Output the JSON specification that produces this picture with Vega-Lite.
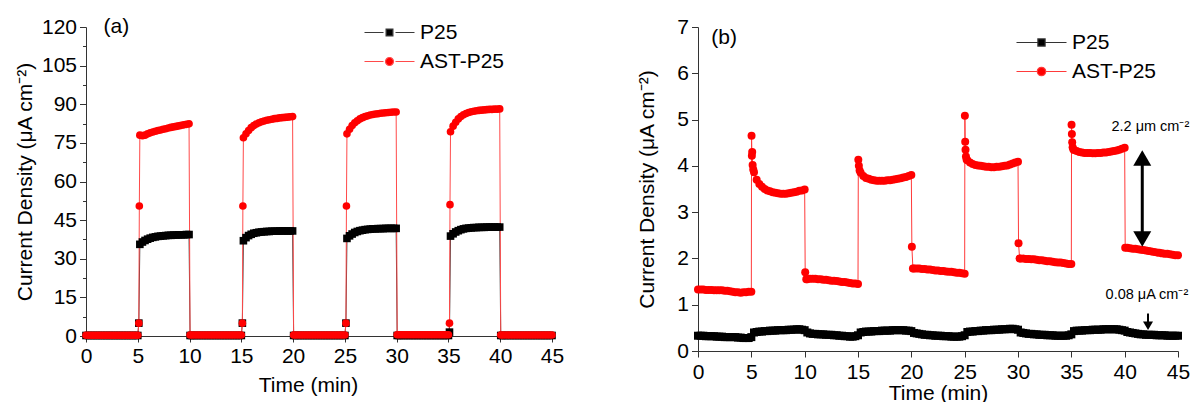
{
"$schema": "https://vega.github.io/schema/vega-lite/v6.json",
"padding": {"left": 14, "top": 16, "right": 0, "bottom": 0},
"spacing": 72,
"resolve": {"scale": {"color": "independent", "fill": "independent", "shape": "independent", "stroke": "independent"}, "legend": {"color": "independent", "fill": "independent", "shape": "independent", "stroke": "independent"}},
"config": {
  "view": {"stroke": null},
  "font": "Liberation Sans",
  "legend": {"symbolFillColor": "#000000", "symbolStrokeColor": "#000000"},
  "axis": {"grid": false, "labelFont": "Liberation Sans", "titleFont": "Liberation Sans", "labelFontSize": 21, "titleFontSize": 21, "titleFontWeight": "normal", "labelColor": "#000", "titleColor": "#000", "domainColor": "#333", "tickColor": "#333", "labelFlush": false, "labelOverlap": false}
},
"datasets": {
"legend": [{"s":"P25"},{"s":"AST-P25"}],
"a": [
{"s":"P25","t":0,"v":0.2},{"s":"P25","t":0.25,"v":0.2},{"s":"P25","t":0.5,"v":0.2},{"s":"P25","t":0.75,"v":0.2},{"s":"P25","t":1,"v":0.2},{"s":"P25","t":1.25,"v":0.2},{"s":"P25","t":1.5,"v":0.2},{"s":"P25","t":1.75,"v":0.2},{"s":"P25","t":2,"v":0.2},{"s":"P25","t":2.25,"v":0.2},{"s":"P25","t":2.5,"v":0.2},{"s":"P25","t":2.75,"v":0.2},{"s":"P25","t":3,"v":0.2},{"s":"P25","t":3.25,"v":0.2},{"s":"P25","t":3.5,"v":0.2},{"s":"P25","t":3.75,"v":0.2},{"s":"P25","t":4,"v":0.2},{"s":"P25","t":4.25,"v":0.2},{"s":"P25","t":4.5,"v":0.2},{"s":"P25","t":4.75,"v":0.2},{"s":"P25","t":5,"v":0.2},
{"s":"P25","t":5.1,"v":5},
{"s":"P25","t":5.2,"v":35.6},{"s":"P25","t":5.45,"v":36.5},{"s":"P25","t":5.7,"v":37.1},{"s":"P25","t":5.95,"v":37.6},{"s":"P25","t":6.2,"v":38.0},{"s":"P25","t":6.45,"v":38.3},{"s":"P25","t":6.7,"v":38.5},{"s":"P25","t":6.95,"v":38.7},{"s":"P25","t":7.2,"v":38.8},{"s":"P25","t":7.45,"v":38.9},{"s":"P25","t":7.7,"v":39.0},{"s":"P25","t":7.95,"v":39.1},{"s":"P25","t":8.2,"v":39.1},{"s":"P25","t":8.45,"v":39.2},{"s":"P25","t":8.7,"v":39.2},{"s":"P25","t":8.95,"v":39.3},{"s":"P25","t":9.2,"v":39.3},{"s":"P25","t":9.45,"v":39.3},{"s":"P25","t":9.7,"v":39.4},{"s":"P25","t":9.95,"v":39.4},
{"s":"P25","t":10.05,"v":0.2},{"s":"P25","t":10.25,"v":0.2},{"s":"P25","t":10.5,"v":0.2},{"s":"P25","t":10.75,"v":0.2},{"s":"P25","t":11,"v":0.2},{"s":"P25","t":11.25,"v":0.2},{"s":"P25","t":11.5,"v":0.2},{"s":"P25","t":11.75,"v":0.2},{"s":"P25","t":12,"v":0.2},{"s":"P25","t":12.25,"v":0.2},{"s":"P25","t":12.5,"v":0.2},{"s":"P25","t":12.75,"v":0.2},{"s":"P25","t":13,"v":0.2},{"s":"P25","t":13.25,"v":0.2},{"s":"P25","t":13.5,"v":0.2},{"s":"P25","t":13.75,"v":0.2},{"s":"P25","t":14,"v":0.2},{"s":"P25","t":14.25,"v":0.2},{"s":"P25","t":14.5,"v":0.2},{"s":"P25","t":14.75,"v":0.2},{"s":"P25","t":15,"v":0.2},
{"s":"P25","t":15.1,"v":5},
{"s":"P25","t":15.2,"v":37.0},{"s":"P25","t":15.45,"v":38.2},{"s":"P25","t":15.7,"v":39.0},{"s":"P25","t":15.95,"v":39.5},{"s":"P25","t":16.2,"v":39.9},{"s":"P25","t":16.45,"v":40.1},{"s":"P25","t":16.7,"v":40.3},{"s":"P25","t":16.95,"v":40.4},{"s":"P25","t":17.2,"v":40.5},{"s":"P25","t":17.45,"v":40.6},{"s":"P25","t":17.7,"v":40.6},{"s":"P25","t":17.95,"v":40.7},{"s":"P25","t":18.2,"v":40.7},{"s":"P25","t":18.45,"v":40.7},{"s":"P25","t":18.7,"v":40.8},{"s":"P25","t":18.95,"v":40.8},{"s":"P25","t":19.2,"v":40.8},{"s":"P25","t":19.45,"v":40.8},{"s":"P25","t":19.7,"v":40.8},{"s":"P25","t":19.95,"v":40.8},
{"s":"P25","t":20.05,"v":0.2},{"s":"P25","t":20.25,"v":0.2},{"s":"P25","t":20.5,"v":0.2},{"s":"P25","t":20.75,"v":0.2},{"s":"P25","t":21,"v":0.2},{"s":"P25","t":21.25,"v":0.2},{"s":"P25","t":21.5,"v":0.2},{"s":"P25","t":21.75,"v":0.2},{"s":"P25","t":22,"v":0.2},{"s":"P25","t":22.25,"v":0.2},{"s":"P25","t":22.5,"v":0.2},{"s":"P25","t":22.75,"v":0.2},{"s":"P25","t":23,"v":0.2},{"s":"P25","t":23.25,"v":0.2},{"s":"P25","t":23.5,"v":0.2},{"s":"P25","t":23.75,"v":0.2},{"s":"P25","t":24,"v":0.2},{"s":"P25","t":24.25,"v":0.2},{"s":"P25","t":24.5,"v":0.2},{"s":"P25","t":24.75,"v":0.2},{"s":"P25","t":25,"v":0.2},
{"s":"P25","t":25.1,"v":5},
{"s":"P25","t":25.2,"v":37.9},{"s":"P25","t":25.45,"v":38.9},{"s":"P25","t":25.7,"v":39.6},{"s":"P25","t":25.95,"v":40.2},{"s":"P25","t":26.2,"v":40.6},{"s":"P25","t":26.45,"v":40.9},{"s":"P25","t":26.7,"v":41.1},{"s":"P25","t":26.95,"v":41.3},{"s":"P25","t":27.2,"v":41.4},{"s":"P25","t":27.45,"v":41.5},{"s":"P25","t":27.7,"v":41.6},{"s":"P25","t":27.95,"v":41.6},{"s":"P25","t":28.2,"v":41.7},{"s":"P25","t":28.45,"v":41.7},{"s":"P25","t":28.7,"v":41.7},{"s":"P25","t":28.95,"v":41.8},{"s":"P25","t":29.2,"v":41.8},{"s":"P25","t":29.45,"v":41.8},{"s":"P25","t":29.7,"v":41.8},{"s":"P25","t":29.95,"v":41.8},
{"s":"P25","t":30.05,"v":0.2},{"s":"P25","t":30.25,"v":0.2},{"s":"P25","t":30.5,"v":0.2},{"s":"P25","t":30.75,"v":0.2},{"s":"P25","t":31,"v":0.2},{"s":"P25","t":31.25,"v":0.2},{"s":"P25","t":31.5,"v":0.2},{"s":"P25","t":31.75,"v":0.2},{"s":"P25","t":32,"v":0.2},{"s":"P25","t":32.25,"v":0.2},{"s":"P25","t":32.5,"v":0.2},{"s":"P25","t":32.75,"v":0.2},{"s":"P25","t":33,"v":0.2},{"s":"P25","t":33.25,"v":0.2},{"s":"P25","t":33.5,"v":0.2},{"s":"P25","t":33.75,"v":0.2},{"s":"P25","t":34,"v":0.2},{"s":"P25","t":34.25,"v":0.2},{"s":"P25","t":34.5,"v":0.2},{"s":"P25","t":34.75,"v":0.2},{"s":"P25","t":35,"v":0.2},
{"s":"P25","t":35.1,"v":1.5},
{"s":"P25","t":35.2,"v":38.8},{"s":"P25","t":35.45,"v":39.7},{"s":"P25","t":35.7,"v":40.4},{"s":"P25","t":35.95,"v":40.9},{"s":"P25","t":36.2,"v":41.3},{"s":"P25","t":36.45,"v":41.6},{"s":"P25","t":36.7,"v":41.8},{"s":"P25","t":36.95,"v":41.9},{"s":"P25","t":37.2,"v":42.0},{"s":"P25","t":37.45,"v":42.1},{"s":"P25","t":37.7,"v":42.1},{"s":"P25","t":37.95,"v":42.2},{"s":"P25","t":38.2,"v":42.2},{"s":"P25","t":38.45,"v":42.2},{"s":"P25","t":38.7,"v":42.3},{"s":"P25","t":38.95,"v":42.3},{"s":"P25","t":39.2,"v":42.3},{"s":"P25","t":39.45,"v":42.3},{"s":"P25","t":39.7,"v":42.3},{"s":"P25","t":39.95,"v":42.3},
{"s":"P25","t":40.05,"v":0.2},{"s":"P25","t":40.25,"v":0.2},{"s":"P25","t":40.5,"v":0.2},{"s":"P25","t":40.75,"v":0.2},{"s":"P25","t":41,"v":0.2},{"s":"P25","t":41.25,"v":0.2},{"s":"P25","t":41.5,"v":0.2},{"s":"P25","t":41.75,"v":0.2},{"s":"P25","t":42,"v":0.2},{"s":"P25","t":42.25,"v":0.2},{"s":"P25","t":42.5,"v":0.2},{"s":"P25","t":42.75,"v":0.2},{"s":"P25","t":43,"v":0.2},{"s":"P25","t":43.25,"v":0.2},{"s":"P25","t":43.5,"v":0.2},{"s":"P25","t":43.75,"v":0.2},{"s":"P25","t":44,"v":0.2},{"s":"P25","t":44.25,"v":0.2},{"s":"P25","t":44.5,"v":0.2},{"s":"P25","t":44.75,"v":0.2},{"s":"P25","t":45,"v":0.2},

{"s":"AST-P25","t":0,"v":0.3},{"s":"AST-P25","t":0.25,"v":0.3},{"s":"AST-P25","t":0.5,"v":0.3},{"s":"AST-P25","t":0.75,"v":0.3},{"s":"AST-P25","t":1,"v":0.3},{"s":"AST-P25","t":1.25,"v":0.3},{"s":"AST-P25","t":1.5,"v":0.3},{"s":"AST-P25","t":1.75,"v":0.3},{"s":"AST-P25","t":2,"v":0.3},{"s":"AST-P25","t":2.25,"v":0.3},{"s":"AST-P25","t":2.5,"v":0.3},{"s":"AST-P25","t":2.75,"v":0.3},{"s":"AST-P25","t":3,"v":0.3},{"s":"AST-P25","t":3.25,"v":0.3},{"s":"AST-P25","t":3.5,"v":0.3},{"s":"AST-P25","t":3.75,"v":0.3},{"s":"AST-P25","t":4,"v":0.3},{"s":"AST-P25","t":4.25,"v":0.3},{"s":"AST-P25","t":4.5,"v":0.3},{"s":"AST-P25","t":4.75,"v":0.3},{"s":"AST-P25","t":5,"v":0.3},
{"s":"AST-P25","t":5.1,"v":5},{"s":"AST-P25","t":5.15,"v":50.5},
{"s":"AST-P25","t":5.2,"v":78.0},{"s":"AST-P25","t":5.45,"v":77.8},{"s":"AST-P25","t":5.7,"v":78.0},{"s":"AST-P25","t":5.95,"v":78.5},{"s":"AST-P25","t":6.2,"v":78.9},{"s":"AST-P25","t":6.45,"v":79.2},{"s":"AST-P25","t":6.7,"v":79.5},{"s":"AST-P25","t":6.95,"v":79.8},{"s":"AST-P25","t":7.2,"v":80.0},{"s":"AST-P25","t":7.45,"v":80.3},{"s":"AST-P25","t":7.7,"v":80.5},{"s":"AST-P25","t":7.95,"v":80.8},{"s":"AST-P25","t":8.2,"v":81.0},{"s":"AST-P25","t":8.45,"v":81.2},{"s":"AST-P25","t":8.7,"v":81.4},{"s":"AST-P25","t":8.95,"v":81.6},{"s":"AST-P25","t":9.2,"v":81.8},{"s":"AST-P25","t":9.45,"v":82.0},{"s":"AST-P25","t":9.7,"v":82.2},{"s":"AST-P25","t":9.95,"v":82.4},
{"s":"AST-P25","t":10.05,"v":0.4},{"s":"AST-P25","t":10.25,"v":0.4},{"s":"AST-P25","t":10.5,"v":0.4},{"s":"AST-P25","t":10.75,"v":0.4},{"s":"AST-P25","t":11,"v":0.4},{"s":"AST-P25","t":11.25,"v":0.4},{"s":"AST-P25","t":11.5,"v":0.4},{"s":"AST-P25","t":11.75,"v":0.4},{"s":"AST-P25","t":12,"v":0.4},{"s":"AST-P25","t":12.25,"v":0.4},{"s":"AST-P25","t":12.5,"v":0.4},{"s":"AST-P25","t":12.75,"v":0.4},{"s":"AST-P25","t":13,"v":0.4},{"s":"AST-P25","t":13.25,"v":0.4},{"s":"AST-P25","t":13.5,"v":0.4},{"s":"AST-P25","t":13.75,"v":0.4},{"s":"AST-P25","t":14,"v":0.4},{"s":"AST-P25","t":14.25,"v":0.4},{"s":"AST-P25","t":14.5,"v":0.4},{"s":"AST-P25","t":14.75,"v":0.4},{"s":"AST-P25","t":15,"v":0.4},
{"s":"AST-P25","t":15.1,"v":5},{"s":"AST-P25","t":15.15,"v":50.5},
{"s":"AST-P25","t":15.2,"v":77.0},{"s":"AST-P25","t":15.45,"v":78.5},{"s":"AST-P25","t":15.7,"v":79.8},{"s":"AST-P25","t":15.95,"v":80.9},{"s":"AST-P25","t":16.2,"v":81.7},{"s":"AST-P25","t":16.45,"v":82.3},{"s":"AST-P25","t":16.7,"v":82.8},{"s":"AST-P25","t":16.95,"v":83.2},{"s":"AST-P25","t":17.2,"v":83.5},{"s":"AST-P25","t":17.45,"v":83.8},{"s":"AST-P25","t":17.7,"v":84.0},{"s":"AST-P25","t":17.95,"v":84.2},{"s":"AST-P25","t":18.2,"v":84.4},{"s":"AST-P25","t":18.45,"v":84.5},{"s":"AST-P25","t":18.7,"v":84.7},{"s":"AST-P25","t":18.95,"v":84.8},{"s":"AST-P25","t":19.2,"v":84.9},{"s":"AST-P25","t":19.45,"v":85.0},{"s":"AST-P25","t":19.7,"v":85.1},{"s":"AST-P25","t":19.95,"v":85.2},
{"s":"AST-P25","t":20.05,"v":0.4},{"s":"AST-P25","t":20.25,"v":0.4},{"s":"AST-P25","t":20.5,"v":0.4},{"s":"AST-P25","t":20.75,"v":0.4},{"s":"AST-P25","t":21,"v":0.4},{"s":"AST-P25","t":21.25,"v":0.4},{"s":"AST-P25","t":21.5,"v":0.4},{"s":"AST-P25","t":21.75,"v":0.4},{"s":"AST-P25","t":22,"v":0.4},{"s":"AST-P25","t":22.25,"v":0.4},{"s":"AST-P25","t":22.5,"v":0.4},{"s":"AST-P25","t":22.75,"v":0.4},{"s":"AST-P25","t":23,"v":0.4},{"s":"AST-P25","t":23.25,"v":0.4},{"s":"AST-P25","t":23.5,"v":0.4},{"s":"AST-P25","t":23.75,"v":0.4},{"s":"AST-P25","t":24,"v":0.4},{"s":"AST-P25","t":24.25,"v":0.4},{"s":"AST-P25","t":24.5,"v":0.4},{"s":"AST-P25","t":24.75,"v":0.4},{"s":"AST-P25","t":25,"v":0.4},
{"s":"AST-P25","t":25.1,"v":5},{"s":"AST-P25","t":25.15,"v":50.5},
{"s":"AST-P25","t":25.2,"v":78.5},{"s":"AST-P25","t":25.45,"v":80.3},{"s":"AST-P25","t":25.7,"v":81.7},{"s":"AST-P25","t":25.95,"v":82.8},{"s":"AST-P25","t":26.2,"v":83.6},{"s":"AST-P25","t":26.45,"v":84.3},{"s":"AST-P25","t":26.7,"v":84.8},{"s":"AST-P25","t":26.95,"v":85.2},{"s":"AST-P25","t":27.2,"v":85.5},{"s":"AST-P25","t":27.45,"v":85.8},{"s":"AST-P25","t":27.7,"v":86.0},{"s":"AST-P25","t":27.95,"v":86.2},{"s":"AST-P25","t":28.2,"v":86.3},{"s":"AST-P25","t":28.45,"v":86.5},{"s":"AST-P25","t":28.7,"v":86.6},{"s":"AST-P25","t":28.95,"v":86.7},{"s":"AST-P25","t":29.2,"v":86.8},{"s":"AST-P25","t":29.45,"v":86.9},{"s":"AST-P25","t":29.7,"v":87.0},{"s":"AST-P25","t":29.95,"v":87.0},
{"s":"AST-P25","t":30.05,"v":0.5},{"s":"AST-P25","t":30.25,"v":0.5},{"s":"AST-P25","t":30.5,"v":0.5},{"s":"AST-P25","t":30.75,"v":0.5},{"s":"AST-P25","t":31,"v":0.5},{"s":"AST-P25","t":31.25,"v":0.5},{"s":"AST-P25","t":31.5,"v":0.5},{"s":"AST-P25","t":31.75,"v":0.5},{"s":"AST-P25","t":32,"v":0.5},{"s":"AST-P25","t":32.25,"v":0.5},{"s":"AST-P25","t":32.5,"v":0.5},{"s":"AST-P25","t":32.75,"v":0.5},{"s":"AST-P25","t":33,"v":0.5},{"s":"AST-P25","t":33.25,"v":0.5},{"s":"AST-P25","t":33.5,"v":0.5},{"s":"AST-P25","t":33.75,"v":0.5},{"s":"AST-P25","t":34,"v":0.5},{"s":"AST-P25","t":34.25,"v":0.5},{"s":"AST-P25","t":34.5,"v":0.5},{"s":"AST-P25","t":34.75,"v":0.5},{"s":"AST-P25","t":35,"v":0.5},
{"s":"AST-P25","t":35.1,"v":5},{"s":"AST-P25","t":35.15,"v":51},
{"s":"AST-P25","t":35.2,"v":79.3},{"s":"AST-P25","t":35.45,"v":81.5},{"s":"AST-P25","t":35.7,"v":83.0},{"s":"AST-P25","t":35.95,"v":84.3},{"s":"AST-P25","t":36.2,"v":85.2},{"s":"AST-P25","t":36.45,"v":85.9},{"s":"AST-P25","t":36.7,"v":86.4},{"s":"AST-P25","t":36.95,"v":86.8},{"s":"AST-P25","t":37.2,"v":87.1},{"s":"AST-P25","t":37.45,"v":87.3},{"s":"AST-P25","t":37.7,"v":87.5},{"s":"AST-P25","t":37.95,"v":87.6},{"s":"AST-P25","t":38.2,"v":87.7},{"s":"AST-P25","t":38.45,"v":87.8},{"s":"AST-P25","t":38.7,"v":87.9},{"s":"AST-P25","t":38.95,"v":88.0},{"s":"AST-P25","t":39.2,"v":88.0},{"s":"AST-P25","t":39.45,"v":88.1},{"s":"AST-P25","t":39.7,"v":88.1},{"s":"AST-P25","t":39.95,"v":88.2},
{"s":"AST-P25","t":40.05,"v":0.4},{"s":"AST-P25","t":40.25,"v":0.4},{"s":"AST-P25","t":40.5,"v":0.4},{"s":"AST-P25","t":40.75,"v":0.4},{"s":"AST-P25","t":41,"v":0.4},{"s":"AST-P25","t":41.25,"v":0.4},{"s":"AST-P25","t":41.5,"v":0.4},{"s":"AST-P25","t":41.75,"v":0.4},{"s":"AST-P25","t":42,"v":0.4},{"s":"AST-P25","t":42.25,"v":0.4},{"s":"AST-P25","t":42.5,"v":0.4},{"s":"AST-P25","t":42.75,"v":0.4},{"s":"AST-P25","t":43,"v":0.4},{"s":"AST-P25","t":43.25,"v":0.4},{"s":"AST-P25","t":43.5,"v":0.4},{"s":"AST-P25","t":43.75,"v":0.4},{"s":"AST-P25","t":44,"v":0.4},{"s":"AST-P25","t":44.25,"v":0.4},{"s":"AST-P25","t":44.5,"v":0.4},{"s":"AST-P25","t":44.75,"v":0.4},{"s":"AST-P25","t":45,"v":0.4}
],
"b": [
{"s":"P25","t":0,"v":0.33},{"s":"P25","t":0.25,"v":0.33},{"s":"P25","t":0.5,"v":0.33},{"s":"P25","t":0.75,"v":0.32},{"s":"P25","t":1,"v":0.32},{"s":"P25","t":1.25,"v":0.32},{"s":"P25","t":1.5,"v":0.32},{"s":"P25","t":1.75,"v":0.31},{"s":"P25","t":2,"v":0.31},{"s":"P25","t":2.25,"v":0.31},{"s":"P25","t":2.5,"v":0.30},{"s":"P25","t":2.75,"v":0.30},{"s":"P25","t":3,"v":0.30},{"s":"P25","t":3.25,"v":0.30},{"s":"P25","t":3.5,"v":0.30},{"s":"P25","t":3.75,"v":0.29},{"s":"P25","t":4,"v":0.29},{"s":"P25","t":4.25,"v":0.28},{"s":"P25","t":4.5,"v":0.28},{"s":"P25","t":4.75,"v":0.28},{"s":"P25","t":5,"v":0.30},
{"s":"P25","t":5.25,"v":0.40},{"s":"P25","t":5.5,"v":0.41},{"s":"P25","t":5.75,"v":0.42},{"s":"P25","t":6,"v":0.42},{"s":"P25","t":6.25,"v":0.43},{"s":"P25","t":6.5,"v":0.43},{"s":"P25","t":6.75,"v":0.44},{"s":"P25","t":7,"v":0.44},{"s":"P25","t":7.25,"v":0.44},{"s":"P25","t":7.5,"v":0.45},{"s":"P25","t":7.75,"v":0.45},{"s":"P25","t":8,"v":0.45},{"s":"P25","t":8.25,"v":0.45},{"s":"P25","t":8.5,"v":0.46},{"s":"P25","t":8.75,"v":0.46},{"s":"P25","t":9,"v":0.46},{"s":"P25","t":9.25,"v":0.47},{"s":"P25","t":9.5,"v":0.47},{"s":"P25","t":9.75,"v":0.46},{"s":"P25","t":10,"v":0.45},
{"s":"P25","t":10.25,"v":0.40},{"s":"P25","t":10.5,"v":0.38},{"s":"P25","t":10.75,"v":0.37},{"s":"P25","t":11,"v":0.37},{"s":"P25","t":11.25,"v":0.36},{"s":"P25","t":11.5,"v":0.36},{"s":"P25","t":11.75,"v":0.36},{"s":"P25","t":12,"v":0.35},{"s":"P25","t":12.25,"v":0.35},{"s":"P25","t":12.5,"v":0.35},{"s":"P25","t":12.75,"v":0.34},{"s":"P25","t":13,"v":0.34},{"s":"P25","t":13.25,"v":0.33},{"s":"P25","t":13.5,"v":0.33},{"s":"P25","t":13.75,"v":0.32},{"s":"P25","t":14,"v":0.32},{"s":"P25","t":14.25,"v":0.31},{"s":"P25","t":14.5,"v":0.31},{"s":"P25","t":14.75,"v":0.32},{"s":"P25","t":15,"v":0.34},
{"s":"P25","t":15.25,"v":0.40},{"s":"P25","t":15.5,"v":0.41},{"s":"P25","t":15.75,"v":0.42},{"s":"P25","t":16,"v":0.42},{"s":"P25","t":16.25,"v":0.42},{"s":"P25","t":16.5,"v":0.43},{"s":"P25","t":16.75,"v":0.43},{"s":"P25","t":17,"v":0.43},{"s":"P25","t":17.25,"v":0.44},{"s":"P25","t":17.5,"v":0.44},{"s":"P25","t":17.75,"v":0.44},{"s":"P25","t":18,"v":0.44},{"s":"P25","t":18.25,"v":0.45},{"s":"P25","t":18.5,"v":0.45},{"s":"P25","t":18.75,"v":0.45},{"s":"P25","t":19,"v":0.45},{"s":"P25","t":19.25,"v":0.45},{"s":"P25","t":19.5,"v":0.44},{"s":"P25","t":19.75,"v":0.44},{"s":"P25","t":20,"v":0.43},
{"s":"P25","t":20.25,"v":0.39},{"s":"P25","t":20.5,"v":0.38},{"s":"P25","t":20.75,"v":0.37},{"s":"P25","t":21,"v":0.36},{"s":"P25","t":21.25,"v":0.35},{"s":"P25","t":21.5,"v":0.35},{"s":"P25","t":21.75,"v":0.34},{"s":"P25","t":22,"v":0.34},{"s":"P25","t":22.25,"v":0.33},{"s":"P25","t":22.5,"v":0.33},{"s":"P25","t":22.75,"v":0.33},{"s":"P25","t":23,"v":0.32},{"s":"P25","t":23.25,"v":0.32},{"s":"P25","t":23.5,"v":0.32},{"s":"P25","t":23.75,"v":0.31},{"s":"P25","t":24,"v":0.31},{"s":"P25","t":24.25,"v":0.31},{"s":"P25","t":24.5,"v":0.31},{"s":"P25","t":24.75,"v":0.32},{"s":"P25","t":25,"v":0.34},
{"s":"P25","t":25.25,"v":0.41},{"s":"P25","t":25.5,"v":0.42},{"s":"P25","t":25.75,"v":0.42},{"s":"P25","t":26,"v":0.43},{"s":"P25","t":26.25,"v":0.43},{"s":"P25","t":26.5,"v":0.44},{"s":"P25","t":26.75,"v":0.44},{"s":"P25","t":27,"v":0.45},{"s":"P25","t":27.25,"v":0.45},{"s":"P25","t":27.5,"v":0.45},{"s":"P25","t":27.75,"v":0.46},{"s":"P25","t":28,"v":0.46},{"s":"P25","t":28.25,"v":0.46},{"s":"P25","t":28.5,"v":0.47},{"s":"P25","t":28.75,"v":0.47},{"s":"P25","t":29,"v":0.47},{"s":"P25","t":29.25,"v":0.48},{"s":"P25","t":29.5,"v":0.48},{"s":"P25","t":29.75,"v":0.47},{"s":"P25","t":30,"v":0.46},
{"s":"P25","t":30.25,"v":0.40},{"s":"P25","t":30.5,"v":0.39},{"s":"P25","t":30.75,"v":0.38},{"s":"P25","t":31,"v":0.37},{"s":"P25","t":31.25,"v":0.37},{"s":"P25","t":31.5,"v":0.36},{"s":"P25","t":31.75,"v":0.36},{"s":"P25","t":32,"v":0.35},{"s":"P25","t":32.25,"v":0.35},{"s":"P25","t":32.5,"v":0.35},{"s":"P25","t":32.75,"v":0.34},{"s":"P25","t":33,"v":0.34},{"s":"P25","t":33.25,"v":0.34},{"s":"P25","t":33.5,"v":0.33},{"s":"P25","t":33.75,"v":0.33},{"s":"P25","t":34,"v":0.33},{"s":"P25","t":34.25,"v":0.33},{"s":"P25","t":34.5,"v":0.33},{"s":"P25","t":34.75,"v":0.34},{"s":"P25","t":35,"v":0.36},
{"s":"P25","t":35.25,"v":0.43},{"s":"P25","t":35.5,"v":0.44},{"s":"P25","t":35.75,"v":0.44},{"s":"P25","t":36,"v":0.44},{"s":"P25","t":36.25,"v":0.45},{"s":"P25","t":36.5,"v":0.45},{"s":"P25","t":36.75,"v":0.45},{"s":"P25","t":37,"v":0.46},{"s":"P25","t":37.25,"v":0.46},{"s":"P25","t":37.5,"v":0.46},{"s":"P25","t":37.75,"v":0.46},{"s":"P25","t":38,"v":0.47},{"s":"P25","t":38.25,"v":0.47},{"s":"P25","t":38.5,"v":0.47},{"s":"P25","t":38.75,"v":0.47},{"s":"P25","t":39,"v":0.47},{"s":"P25","t":39.25,"v":0.47},{"s":"P25","t":39.5,"v":0.46},{"s":"P25","t":39.75,"v":0.45},{"s":"P25","t":40,"v":0.44},
{"s":"P25","t":40.25,"v":0.41},{"s":"P25","t":40.5,"v":0.40},{"s":"P25","t":40.75,"v":0.39},{"s":"P25","t":41,"v":0.38},{"s":"P25","t":41.25,"v":0.37},{"s":"P25","t":41.5,"v":0.36},{"s":"P25","t":41.75,"v":0.36},{"s":"P25","t":42,"v":0.35},{"s":"P25","t":42.25,"v":0.35},{"s":"P25","t":42.5,"v":0.35},{"s":"P25","t":42.75,"v":0.35},{"s":"P25","t":43,"v":0.34},{"s":"P25","t":43.25,"v":0.34},{"s":"P25","t":43.5,"v":0.34},{"s":"P25","t":43.75,"v":0.34},{"s":"P25","t":44,"v":0.33},{"s":"P25","t":44.25,"v":0.33},{"s":"P25","t":44.5,"v":0.33},{"s":"P25","t":44.75,"v":0.33},{"s":"P25","t":45,"v":0.33},

{"s":"AST-P25","t":0,"v":1.33},{"s":"AST-P25","t":0.25,"v":1.33},{"s":"AST-P25","t":0.5,"v":1.33},{"s":"AST-P25","t":0.75,"v":1.32},{"s":"AST-P25","t":1,"v":1.32},{"s":"AST-P25","t":1.25,"v":1.32},{"s":"AST-P25","t":1.5,"v":1.31},{"s":"AST-P25","t":1.75,"v":1.31},{"s":"AST-P25","t":2,"v":1.31},{"s":"AST-P25","t":2.25,"v":1.31},{"s":"AST-P25","t":2.5,"v":1.30},{"s":"AST-P25","t":2.75,"v":1.30},{"s":"AST-P25","t":3,"v":1.29},{"s":"AST-P25","t":3.25,"v":1.28},{"s":"AST-P25","t":3.5,"v":1.27},{"s":"AST-P25","t":3.75,"v":1.27},{"s":"AST-P25","t":4,"v":1.26},{"s":"AST-P25","t":4.25,"v":1.27},{"s":"AST-P25","t":4.5,"v":1.27},{"s":"AST-P25","t":4.75,"v":1.28},{"s":"AST-P25","t":5,"v":1.28},
{"s":"AST-P25","t":5.02,"v":4.65},{"s":"AST-P25","t":5.05,"v":4.22},{"s":"AST-P25","t":5.08,"v":4.30},{"s":"AST-P25","t":5.12,"v":4.02},{"s":"AST-P25","t":5.18,"v":3.92},
{"s":"AST-P25","t":5.25,"v":3.86},{"s":"AST-P25","t":5.5,"v":3.70},{"s":"AST-P25","t":5.75,"v":3.61},{"s":"AST-P25","t":6,"v":3.55},{"s":"AST-P25","t":6.25,"v":3.50},{"s":"AST-P25","t":6.5,"v":3.47},{"s":"AST-P25","t":6.75,"v":3.45},{"s":"AST-P25","t":7,"v":3.43},{"s":"AST-P25","t":7.25,"v":3.42},{"s":"AST-P25","t":7.5,"v":3.41},{"s":"AST-P25","t":7.75,"v":3.40},{"s":"AST-P25","t":8,"v":3.40},{"s":"AST-P25","t":8.25,"v":3.40},{"s":"AST-P25","t":8.5,"v":3.41},{"s":"AST-P25","t":8.75,"v":3.42},{"s":"AST-P25","t":9,"v":3.43},{"s":"AST-P25","t":9.25,"v":3.44},{"s":"AST-P25","t":9.5,"v":3.46},{"s":"AST-P25","t":9.75,"v":3.47},{"s":"AST-P25","t":10,"v":3.49},
{"s":"AST-P25","t":10.05,"v":1.70},{"s":"AST-P25","t":10.15,"v":1.55},
{"s":"AST-P25","t":10.25,"v":1.55},{"s":"AST-P25","t":10.5,"v":1.56},{"s":"AST-P25","t":10.75,"v":1.56},{"s":"AST-P25","t":11,"v":1.56},{"s":"AST-P25","t":11.25,"v":1.55},{"s":"AST-P25","t":11.5,"v":1.55},{"s":"AST-P25","t":11.75,"v":1.54},{"s":"AST-P25","t":12,"v":1.54},{"s":"AST-P25","t":12.25,"v":1.53},{"s":"AST-P25","t":12.5,"v":1.52},{"s":"AST-P25","t":12.75,"v":1.52},{"s":"AST-P25","t":13,"v":1.51},{"s":"AST-P25","t":13.25,"v":1.50},{"s":"AST-P25","t":13.5,"v":1.49},{"s":"AST-P25","t":13.75,"v":1.49},{"s":"AST-P25","t":14,"v":1.48},{"s":"AST-P25","t":14.25,"v":1.47},{"s":"AST-P25","t":14.5,"v":1.46},{"s":"AST-P25","t":14.75,"v":1.46},{"s":"AST-P25","t":15,"v":1.45},
{"s":"AST-P25","t":15.03,"v":4.13},{"s":"AST-P25","t":15.08,"v":4.00},{"s":"AST-P25","t":15.15,"v":3.90},
{"s":"AST-P25","t":15.25,"v":3.85},{"s":"AST-P25","t":15.5,"v":3.78},{"s":"AST-P25","t":15.75,"v":3.74},{"s":"AST-P25","t":16,"v":3.72},{"s":"AST-P25","t":16.25,"v":3.70},{"s":"AST-P25","t":16.5,"v":3.69},{"s":"AST-P25","t":16.75,"v":3.68},{"s":"AST-P25","t":17,"v":3.68},{"s":"AST-P25","t":17.25,"v":3.68},{"s":"AST-P25","t":17.5,"v":3.68},{"s":"AST-P25","t":17.75,"v":3.69},{"s":"AST-P25","t":18,"v":3.69},{"s":"AST-P25","t":18.25,"v":3.70},{"s":"AST-P25","t":18.5,"v":3.71},{"s":"AST-P25","t":18.75,"v":3.72},{"s":"AST-P25","t":19,"v":3.73},{"s":"AST-P25","t":19.25,"v":3.75},{"s":"AST-P25","t":19.5,"v":3.76},{"s":"AST-P25","t":19.75,"v":3.78},{"s":"AST-P25","t":20,"v":3.80},
{"s":"AST-P25","t":20.05,"v":2.25},{"s":"AST-P25","t":20.15,"v":1.78},
{"s":"AST-P25","t":20.25,"v":1.78},{"s":"AST-P25","t":20.5,"v":1.78},{"s":"AST-P25","t":20.75,"v":1.78},{"s":"AST-P25","t":21,"v":1.77},{"s":"AST-P25","t":21.25,"v":1.77},{"s":"AST-P25","t":21.5,"v":1.76},{"s":"AST-P25","t":21.75,"v":1.76},{"s":"AST-P25","t":22,"v":1.75},{"s":"AST-P25","t":22.25,"v":1.74},{"s":"AST-P25","t":22.5,"v":1.74},{"s":"AST-P25","t":22.75,"v":1.73},{"s":"AST-P25","t":23,"v":1.73},{"s":"AST-P25","t":23.25,"v":1.72},{"s":"AST-P25","t":23.5,"v":1.71},{"s":"AST-P25","t":23.75,"v":1.71},{"s":"AST-P25","t":24,"v":1.70},{"s":"AST-P25","t":24.25,"v":1.69},{"s":"AST-P25","t":24.5,"v":1.69},{"s":"AST-P25","t":24.75,"v":1.68},{"s":"AST-P25","t":25,"v":1.67},
{"s":"AST-P25","t":25.02,"v":5.08},{"s":"AST-P25","t":25.05,"v":4.52},{"s":"AST-P25","t":25.08,"v":4.35},{"s":"AST-P25","t":25.12,"v":4.20},{"s":"AST-P25","t":25.18,"v":4.14},
{"s":"AST-P25","t":25.25,"v":4.12},{"s":"AST-P25","t":25.5,"v":4.07},{"s":"AST-P25","t":25.75,"v":4.04},{"s":"AST-P25","t":26,"v":4.02},{"s":"AST-P25","t":26.25,"v":4.01},{"s":"AST-P25","t":26.5,"v":4.00},{"s":"AST-P25","t":26.75,"v":3.99},{"s":"AST-P25","t":27,"v":3.98},{"s":"AST-P25","t":27.25,"v":3.98},{"s":"AST-P25","t":27.5,"v":3.97},{"s":"AST-P25","t":27.75,"v":3.97},{"s":"AST-P25","t":28,"v":3.98},{"s":"AST-P25","t":28.25,"v":3.98},{"s":"AST-P25","t":28.5,"v":3.99},{"s":"AST-P25","t":28.75,"v":4.00},{"s":"AST-P25","t":29,"v":4.01},{"s":"AST-P25","t":29.25,"v":4.03},{"s":"AST-P25","t":29.5,"v":4.05},{"s":"AST-P25","t":29.75,"v":4.07},{"s":"AST-P25","t":30,"v":4.09},
{"s":"AST-P25","t":30.05,"v":2.33},{"s":"AST-P25","t":30.15,"v":2.00},
{"s":"AST-P25","t":30.25,"v":2.00},{"s":"AST-P25","t":30.5,"v":2.00},{"s":"AST-P25","t":30.75,"v":1.99},{"s":"AST-P25","t":31,"v":1.99},{"s":"AST-P25","t":31.25,"v":1.98},{"s":"AST-P25","t":31.5,"v":1.98},{"s":"AST-P25","t":31.75,"v":1.97},{"s":"AST-P25","t":32,"v":1.96},{"s":"AST-P25","t":32.25,"v":1.96},{"s":"AST-P25","t":32.5,"v":1.95},{"s":"AST-P25","t":32.75,"v":1.94},{"s":"AST-P25","t":33,"v":1.94},{"s":"AST-P25","t":33.25,"v":1.93},{"s":"AST-P25","t":33.5,"v":1.92},{"s":"AST-P25","t":33.75,"v":1.91},{"s":"AST-P25","t":34,"v":1.91},{"s":"AST-P25","t":34.25,"v":1.90},{"s":"AST-P25","t":34.5,"v":1.89},{"s":"AST-P25","t":34.75,"v":1.88},{"s":"AST-P25","t":35,"v":1.88},
{"s":"AST-P25","t":35.02,"v":4.89},{"s":"AST-P25","t":35.05,"v":4.69},{"s":"AST-P25","t":35.08,"v":4.51},{"s":"AST-P25","t":35.12,"v":4.40},{"s":"AST-P25","t":35.18,"v":4.36},
{"s":"AST-P25","t":35.25,"v":4.34},{"s":"AST-P25","t":35.5,"v":4.32},{"s":"AST-P25","t":35.75,"v":4.30},{"s":"AST-P25","t":36,"v":4.29},{"s":"AST-P25","t":36.25,"v":4.28},{"s":"AST-P25","t":36.5,"v":4.28},{"s":"AST-P25","t":36.75,"v":4.28},{"s":"AST-P25","t":37,"v":4.27},{"s":"AST-P25","t":37.25,"v":4.27},{"s":"AST-P25","t":37.5,"v":4.28},{"s":"AST-P25","t":37.75,"v":4.28},{"s":"AST-P25","t":38,"v":4.29},{"s":"AST-P25","t":38.25,"v":4.29},{"s":"AST-P25","t":38.5,"v":4.30},{"s":"AST-P25","t":38.75,"v":4.31},{"s":"AST-P25","t":39,"v":4.32},{"s":"AST-P25","t":39.25,"v":4.33},{"s":"AST-P25","t":39.5,"v":4.35},{"s":"AST-P25","t":39.75,"v":4.37},{"s":"AST-P25","t":40,"v":4.39},
{"s":"AST-P25","t":40.05,"v":2.23},
{"s":"AST-P25","t":40.25,"v":2.23},{"s":"AST-P25","t":40.5,"v":2.22},{"s":"AST-P25","t":40.75,"v":2.21},{"s":"AST-P25","t":41,"v":2.21},{"s":"AST-P25","t":41.25,"v":2.20},{"s":"AST-P25","t":41.5,"v":2.19},{"s":"AST-P25","t":41.75,"v":2.18},{"s":"AST-P25","t":42,"v":2.17},{"s":"AST-P25","t":42.25,"v":2.16},{"s":"AST-P25","t":42.5,"v":2.15},{"s":"AST-P25","t":42.75,"v":2.14},{"s":"AST-P25","t":43,"v":2.13},{"s":"AST-P25","t":43.25,"v":2.12},{"s":"AST-P25","t":43.5,"v":2.11},{"s":"AST-P25","t":43.75,"v":2.10},{"s":"AST-P25","t":44,"v":2.10},{"s":"AST-P25","t":44.25,"v":2.09},{"s":"AST-P25","t":44.5,"v":2.08},{"s":"AST-P25","t":44.75,"v":2.07},{"s":"AST-P25","t":45,"v":2.07}
]
},
"hconcat": [
{
  "width": 466, "height": 309,
  "resolve": {"axis": {"y": "independent"}},
  "layer": [
    {
      "data": {"name": "a"},
      "mark": {"type": "line", "strokeWidth": 1},
      "encoding": {
        "x": {"field": "t", "type": "quantitative", "scale": {"domain": [0, 45], "nice": false, "zero": false},
              "axis": {"title": "Time (min)", "values": [0,2.5,5,7.5,10,12.5,15,17.5,20,22.5,25,27.5,30,32.5,35,37.5,40,42.5,45],
                       "labelExpr": "datum.value % 5 === 0 ? datum.label : ''", "labelOverlap": false,
                       "tickSize": {"condition": {"test": "datum.value % 5 !== 0", "value": 3.5}, "value": 6},
                       "labelPadding": 3, "titlePadding": 8, "titleX": 222}},
        "y": {"field": "v", "type": "quantitative", "scale": {"domain": [0, 120], "nice": false},
              "axis": {"orient": "left", "title": "Current Density (μA cm⁻²)", "values": [0,15,30,45,60,75,90,105,120],
                       "labelOverlap": false, "tickSize": 6.5, "labelPadding": 3, "titlePadding": 6}},
        "stroke": {"field": "s", "type": "nominal", "scale": {"domain": ["P25", "AST-P25"], "range": ["#3a3a3a", "#ff4a4a"]}}
      }
    },
    {
      "data": {"name": "a"},
      "transform": [{"filter": "datum.s === 'P25'"}],
      "mark": {"type": "point", "filled": true, "opacity": 1, "size": 58, "shape": "square"},
      "encoding": {
        "x": {"field": "t", "type": "quantitative"},
        "y": {"field": "v", "type": "quantitative",
              "axis": {"orient": "left", "title": null, "values": [7.5,22.5,37.5,52.5,67.5,82.5,97.5,112.5], "labels": false, "domain": false, "tickSize": 3.5}},
        "fill": {"field": "s", "type": "nominal", "scale": {"domain": ["P25", "AST-P25"], "range": ["#000000", "#ff0000"]}}
      }
    },
    {
      "data": {"name": "a"},
      "transform": [{"filter": "datum.s === 'AST-P25'"}],
      "mark": {"type": "point", "filled": true, "opacity": 1, "size": 58, "shape": "circle"},
      "encoding": {
        "x": {"field": "t", "type": "quantitative"},
        "y": {"field": "v", "type": "quantitative", "axis": null},
        "fill": {"field": "s", "type": "nominal", "scale": {"domain": ["P25", "AST-P25"], "range": ["#000000", "#ff0000"]}}
      }
    },
    {
      "data": {"name": "legend"},
      "mark": {"type": "point", "filled": true, "opacity": 0, "strokeWidth": 1.2},
      "encoding": {
        "fill": {"field": "s", "type": "nominal", "scale": {"domain": ["P25", "AST-P25"], "range": ["#000000", "#ff0000"]},
                  "legend": {"title": null, "orient": "none", "legendX": 293, "legendY": -5, "padding": 0,
                             "symbolSize": 64, "labelFontSize": 21, "labelFont": "Liberation Sans", "labelColor": "#000",
                             "labelOffset": 20, "rowPadding": 7, "symbolOpacity": 1, "symbolStrokeWidth": 1.2}},
        "shape": {"field": "s", "type": "nominal", "scale": {"domain": ["P25", "AST-P25"], "range": ["M-6.25,0H-1.5M1.5,0H6.25M-0.85,-0.85H0.85V0.85H-0.85Z", "M-6.25,0H-1.5M1.5,0H6.25M-1,0A1,1 0 1,0 1,0A1,1 0 1,0 -1,0Z"]}},
        "stroke": {"field": "s", "type": "nominal"}
      }
    },
    {
      "data": {"values": [{}]},
      "mark": {"type": "text", "text": "(a)", "fontSize": 21, "font": "Liberation Sans", "align": "left", "baseline": "middle", "color": "#000"},
      "encoding": {"x": {"datum": 1.7}, "y": {"datum": 120, "axis": null}}
    }
  ]
},
{
  "width": 480, "height": 324,
  "layer": [
    {
      "data": {"name": "b"},
      "mark": {"type": "line", "strokeWidth": 1},
      "encoding": {
        "x": {"field": "t", "type": "quantitative", "scale": {"domain": [0, 45], "nice": false, "zero": false},
              "axis": {"title": "Time (min)", "values": [0,2.5,5,7.5,10,12.5,15,17.5,20,22.5,25,27.5,30,32.5,35,37.5,40,42.5,45],
                       "labelExpr": "datum.value % 5 === 0 ? datum.label : ''", "labelOverlap": false,
                       "tickSize": {"condition": {"test": "datum.value % 5 !== 0", "value": 3.5}, "value": 6},
                       "labelPadding": 4, "titlePadding": 0}},
        "y": {"field": "v", "type": "quantitative", "scale": {"domain": [0, 7], "nice": false},
              "axis": {"title": "Current Density (μA cm⁻²)", "values": [0,0.5,1,1.5,2,2.5,3,3.5,4,4.5,5,5.5,6,6.5,7],
                       "labelExpr": "datum.value % 1 === 0 ? datum.label : ''", "labelOverlap": false,
                       "tickSize": {"condition": {"test": "datum.value % 1 !== 0", "value": 3.5}, "value": 6.5},
                       "labelPadding": 3, "titlePadding": 19}},
        "stroke": {"field": "s", "type": "nominal", "scale": {"domain": ["P25", "AST-P25"], "range": ["#333333", "#ff3a3a"]}}
      }
    },
    {
      "data": {"name": "b"},
      "transform": [{"filter": "datum.s === 'P25'"}],
      "mark": {"type": "point", "filled": true, "opacity": 1, "size": 64, "shape": "square"},
      "encoding": {
        "x": {"field": "t", "type": "quantitative"},
        "y": {"field": "v", "type": "quantitative"},
        "fill": {"field": "s", "type": "nominal", "scale": {"domain": ["P25", "AST-P25"], "range": ["#000000", "#ff0000"]}}
      }
    },
    {
      "data": {"name": "b"},
      "transform": [{"filter": "datum.s === 'AST-P25'"}],
      "mark": {"type": "point", "filled": true, "opacity": 1, "size": 64, "shape": "circle"},
      "encoding": {
        "x": {"field": "t", "type": "quantitative"},
        "y": {"field": "v", "type": "quantitative"},
        "fill": {"field": "s", "type": "nominal", "scale": {"domain": ["P25", "AST-P25"], "range": ["#000000", "#ff0000"]}}
      }
    },
    {
      "data": {"name": "legend"},
      "mark": {"type": "point", "filled": true, "opacity": 0, "strokeWidth": 1.2},
      "encoding": {
        "fill": {"field": "s", "type": "nominal", "scale": {"domain": ["P25", "AST-P25"], "range": ["#000000", "#ff0000"]},
                  "legend": {"title": null, "orient": "none", "legendX": 333, "legendY": 5, "padding": 0,
                             "symbolSize": 64, "labelFontSize": 21, "labelFont": "Liberation Sans", "labelColor": "#000",
                             "labelOffset": 20, "rowPadding": 7, "symbolOpacity": 1, "symbolStrokeWidth": 1.2}},
        "shape": {"field": "s", "type": "nominal", "scale": {"domain": ["P25", "AST-P25"], "range": ["M-6.25,0H-0.9M0.9,0H6.25M-0.9,-0.9H0.9V0.9H-0.9Z", "M-6.25,0H-1M1,0H6.25M-1.05,0A1.05,1.05 0 1,0 1.05,0A1.05,1.05 0 1,0 -1.05,0Z"]}},
        "stroke": {"field": "s", "type": "nominal"}
      }
    },
    {
      "data": {"values": [{}]},
      "mark": {"type": "text", "text": "(b)", "fontSize": 21, "font": "Liberation Sans", "align": "left", "baseline": "middle", "color": "#000"},
      "encoding": {"x": {"datum": 1.25}, "y": {"datum": 6.77}}
    },
    {
      "data": {"values": [{}]},
      "mark": {"type": "rule", "strokeWidth": 3, "color": "#000"},
      "encoding": {"x": {"datum": 41.65}, "y": {"datum": 2.42}, "y2": {"datum": 4.17}}
    },
    {
      "data": {"values": [{}]},
      "mark": {"type": "point", "shape": "triangle-up", "size": 324, "filled": true, "opacity": 1, "color": "#000"},
      "encoding": {"x": {"datum": 41.65}, "y": {"datum": 4.17}}
    },
    {
      "data": {"values": [{}]},
      "mark": {"type": "point", "shape": "triangle-down", "size": 324, "filled": true, "opacity": 1, "color": "#000"},
      "encoding": {"x": {"datum": 41.65}, "y": {"datum": 2.42}}
    },
    {
      "data": {"values": [{}]},
      "mark": {"type": "rule", "strokeWidth": 2, "color": "#000"},
      "encoding": {"x": {"datum": 42.19}, "y": {"datum": 0.54}, "y2": {"datum": 0.81}}
    },
    {
      "data": {"values": [{}]},
      "mark": {"type": "point", "shape": "triangle-down", "size": 100, "filled": true, "opacity": 1, "color": "#000"},
      "encoding": {"x": {"datum": 42.19}, "y": {"datum": 0.545}}
    },
    {
      "data": {"values": [{}]},
      "mark": {"type": "text", "text": "2.2 μm cm⁻²", "fontSize": 14.5, "font": "Liberation Sans", "align": "left", "baseline": "middle", "color": "#000"},
      "encoding": {"x": {"datum": 38.76}, "y": {"datum": 4.83}}
    },
    {
      "data": {"values": [{}]},
      "mark": {"type": "text", "text": "0.08 μA cm⁻²", "fontSize": 14.5, "font": "Liberation Sans", "align": "left", "baseline": "middle", "color": "#000"},
      "encoding": {"x": {"datum": 38.21}, "y": {"datum": 1.21}}
    }
  ]
}
]
}
